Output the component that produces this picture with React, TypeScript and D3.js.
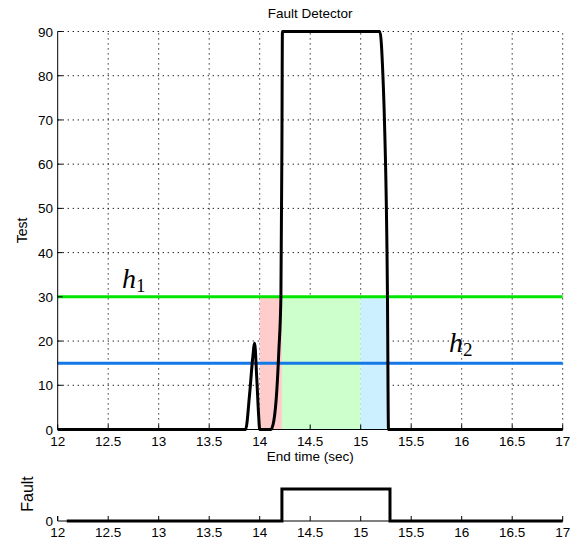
import React from "react";
import * as d3 from "d3";

// Detector test statistic over end time
const testTime = [12, 13.86, 13.9, 13.93, 13.95, 13.97, 13.99, 14.0, 14.11, 14.14, 14.17, 14.19, 14.21, 14.22, 14.225, 15.19, 15.22, 15.235, 15.265, 15.275, 17];
const testValue = [0, 0, 8, 16, 19.5, 12, 3, 0, 0, 2, 9, 18, 30, 64, 90, 90, 80, 70, 30, 0, 0];

// Thresholds
const h1 = 30;
const h2 = 15;

// Shaded decision intervals [start, end]
const redSpan = [14.0, 14.22];
const greenSpan = [14.22, 15.0];
const blueSpan = [15.0, 15.27];

// Fault indicator
const faultTime = [12.09, 14.22, 14.22, 15.29, 15.29, 17];
const faultValue = [0, 0, 1, 1, 0, 0];

const xTicks = [12, 12.5, 13, 13.5, 14, 14.5, 15, 15.5, 16, 16.5, 17];
const yTicks = [0, 10, 20, 30, 40, 50, 60, 70, 80, 90];

const FONT = "'Liberation Sans', Arial, Helvetica, sans-serif";
const SERIF = "'Liberation Serif', 'DejaVu Serif', serif";

export default function App() {
  const x = d3.scaleLinear().domain([12, 17]).range([57.7, 562.7]);
  const y = d3.scaleLinear().domain([0, 90]).range([429.5, 31.5]);
  const yf = d3.scaleLinear().domain([0, 1]).range([521, 489]);

  const line = d3
    .line<number>()
    .x((_, i) => x(testTime[i]))
    .y((d) => y(d))
    .curve(d3.curveMonotoneX);
  const faultLine = d3
    .line<number>()
    .x((_, i) => x(faultTime[i]))
    .y((d) => yf(d));

  const [x0, x1] = x.range();
  const [yb, yt] = y.range();
  const dot = "1.2,3.8";

  const span = (s: number[], fill: string) => (
    <rect x={x(s[0])} y={y(h1)} width={x(s[1]) - x(s[0])} height={y(0) - y(h1)} fill={fill} />
  );

  return (
    <svg width={574} height={541} style={{ position: "absolute", left: 0, top: 0, background: "#fff" }}>
      <rect width={574} height={541} fill="#fff" />
      {/* grid */}
      {xTicks.slice(1).map((t) => (
        <line key={"gx" + t} x1={x(t)} x2={x(t)} y1={yb} y2={yt} stroke="#000" strokeWidth={1} strokeDasharray={dot} />
      ))}
      {yTicks.slice(1).map((t) => (
        <line key={"gy" + t} x1={x0} x2={x1} y1={y(t)} y2={y(t)} stroke="#000" strokeWidth={1} strokeDasharray={dot} />
      ))}
      {/* shaded intervals */}
      {span(redSpan, "#ffcccc")}
      {span(greenSpan, "#ccffcc")}
      {span(blueSpan, "#ccf0ff")}
      {/* thresholds */}
      <line x1={x0} x2={x1} y1={y(h1)} y2={y(h1)} stroke="#00e600" strokeWidth={3} />
      <line x1={x0} x2={x1} y1={y(h2)} y2={y(h2)} stroke="#1478e6" strokeWidth={3} />
      {/* test statistic */}
      <path d={line(testValue) || ""} fill="none" stroke="#000" strokeWidth={3} strokeLinejoin="round" />
      {/* axes */}
      <line x1={x0} x2={x0} y1={yb} y2={yt} stroke="#000" strokeWidth={1} />
      <line x1={x0} x2={x1} y1={yb} y2={yb} stroke="#000" strokeWidth={1} />
      {xTicks.map((t) => (
        <g key={"xt" + t}>
          <line x1={x(t)} x2={x(t)} y1={yb} y2={yb - 5} stroke="#000" />
          <text x={x(t)} y={446} textAnchor="middle" fontFamily={FONT} fontSize={13.5}>
            {t}
          </text>
        </g>
      ))}
      {yTicks.map((t) => (
        <g key={"yt" + t}>
          <line x1={x0} x2={x0 + 5} y1={y(t)} y2={y(t)} stroke="#000" />
          <text x={53} y={y(t) + 5} textAnchor="end" fontFamily={FONT} fontSize={13.5}>
            {t}
          </text>
        </g>
      ))}
      <text x={(x0 + x1) / 2} y={18} textAnchor="middle" fontFamily={FONT} fontSize={13.5}>
        Fault Detector
      </text>
      <text x={(x0 + x1) / 2} y={461} textAnchor="middle" fontFamily={FONT} fontSize={13.5}>
        End time (sec)
      </text>
      <text transform={`translate(26.5,${(yb + yt) / 2}) rotate(-90)`} textAnchor="middle" fontFamily={FONT} fontSize={14}>
        Test
      </text>
      {/* threshold labels */}
      <text x={122} y={288} fontFamily={SERIF} fontSize={28} fontStyle="italic">
        h
        <tspan fontStyle="normal" fontSize={19} dy={4}>1</tspan>
      </text>
      <text x={449} y={352} fontFamily={SERIF} fontSize={28} fontStyle="italic">
        h
        <tspan fontStyle="normal" fontSize={19} dy={4}>2</tspan>
      </text>

      {/* fault indicator panel */}
      <line x1={x0} x2={x1} y1={yf(0)} y2={yf(0)} stroke="#000" strokeWidth={1} />
      <line x1={x0} x2={x0} y1={yf(0)} y2={yf(0) - 5} stroke="#000" />
      {xTicks.map((t) => (
        <g key={"fx" + t}>
          <line x1={x(t)} x2={x(t)} y1={yf(0)} y2={yf(0) - 5} stroke="#000" />
          <text x={x(t)} y={537} textAnchor="middle" fontFamily={FONT} fontSize={13.5}>
            {t}
          </text>
        </g>
      ))}
      <text x={53} y={yf(0) + 5} textAnchor="end" fontFamily={FONT} fontSize={13.5}>
        0
      </text>
      <path d={faultLine(faultValue) || ""} fill="none" stroke="#000" strokeWidth={3} />
      <text transform={`translate(33,494) rotate(-90)`} textAnchor="middle" fontFamily={FONT} fontSize={16}>
        Fault
      </text>
    </svg>
  );
}
